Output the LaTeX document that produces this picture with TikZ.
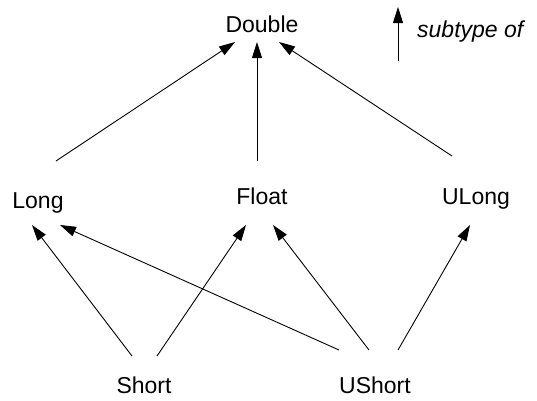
\documentclass[tikz,border=0pt]{standalone}
\usepackage{fontspec}
\setmainfont{Liberation Sans}
\usetikzlibrary{arrows.meta,calc}
\tikzset{
  lbl/.style={inner sep=0pt, anchor=base, font=\fontsize{23}{27}\selectfont},
  arr/.style={line width=0.9pt, -{Triangle[length=16pt,width=10pt]}}
}
\begin{document}
\begin{tikzpicture}[x=1pt,y=-1pt]
\useasboundingbox (0,0) rectangle (537,400);
\node[lbl] (double) at (262,32) {Double};
\node[lbl, anchor=base west, font=\fontsize{23}{27}\selectfont\itshape] (sub) at (417,37) {subtype of};
\node[lbl] (long) at (38,208) {Long};
\node[lbl] (float) at (262,204) {Float};
\node[lbl] (ulong) at (476,204) {ULong};
\node[lbl] (short) at (144,393) {Short};
\node[lbl] (ushort) at (375,393) {UShort};
\coordinate (la) at (398,61);
\coordinate (lb) at (398,7);
\draw[arr] (la) -- (lb);
\draw[arr] ($(long.base)+(18,-47)$) -- ($(double.base)+(-27,10)$);
\draw[arr] ($(float.base)+(-5,-43)$) -- ($(double.base)+(-5,10)$);
\draw[arr] ($(ulong.base)+(-24,-48)$) -- ($(double.base)+(17,10)$);
\draw[arr] ($(short.base)+(-12,-37)$) -- ($(long.base)+(-6,17)$);
\draw[arr] ($(short.base)+(13,-37)$) -- ($(float.base)+(-16,21)$);
\draw[arr] ($(ushort.base)+(-36,-43)$) -- ($(long.base)+(22,17)$);
\draw[arr] ($(ushort.base)+(-6,-43)$) -- ($(float.base)+(11,21)$);
\draw[arr] ($(ushort.base)+(23,-43)$) -- ($(ulong.base)+(-6,21)$);
\end{tikzpicture}
\end{document}
